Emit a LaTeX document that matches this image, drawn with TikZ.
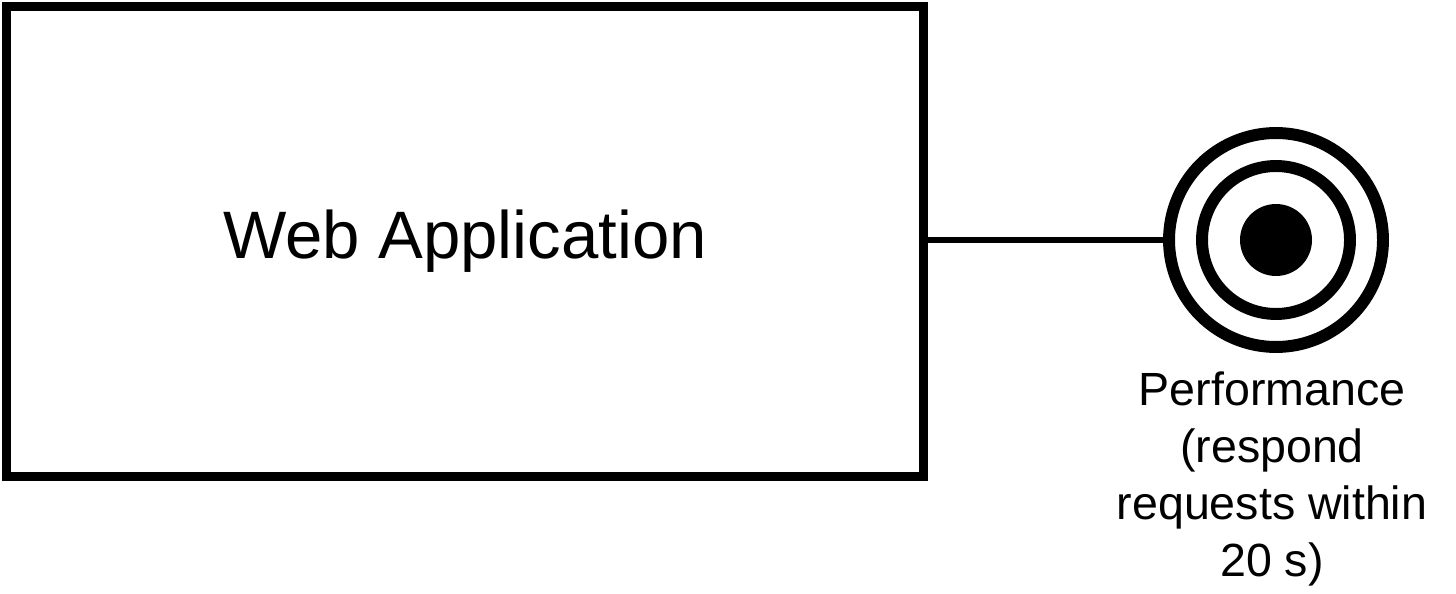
\documentclass[tikz,border=0pt]{standalone}
\usepackage{fontspec}
\setmainfont{Liberation Sans}
\usetikzlibrary{positioning}

\begin{document}
\begin{tikzpicture}
    [x=0.02cm, y=-0.02cm,
    box/.style= {draw=black,line width=5.1pt,minimum width=18.36cm,minimum height=9.42cm,inner sep=0pt,font=\fontsize{38.2}{45}\selectfont},
    ring/.style= {circle,draw=black,line width=6.8pt,inner sep=0pt},
    dot/.style= {circle,fill=black,inner sep=0pt,minimum size=1.44cm},
    lbl/.style= {align=center,inner sep=0pt,font=\fontsize{26.5}{32.4}\selectfont}]

    \useasboundingbox (0,0) rectangle (1456,594);

    \node[box] (app) at (465,241.5) {Web Application};

    \node[ring,minimum size=4.28cm] (goal) at (1276,240) {};
    \node[ring,minimum size=2.96cm] (goalin) at (goal.center) {};
    \node[dot] (goaldot) at (goal.center) {};

    \draw[line width=3.4pt] (app.east |- goal) -- (goal);

    \node[lbl,below=0.37cm of goal,xshift=-0.08cm] (perf) {Performance\\(respond\\requests within\\20 s)};
\end{tikzpicture}
\end{document}
